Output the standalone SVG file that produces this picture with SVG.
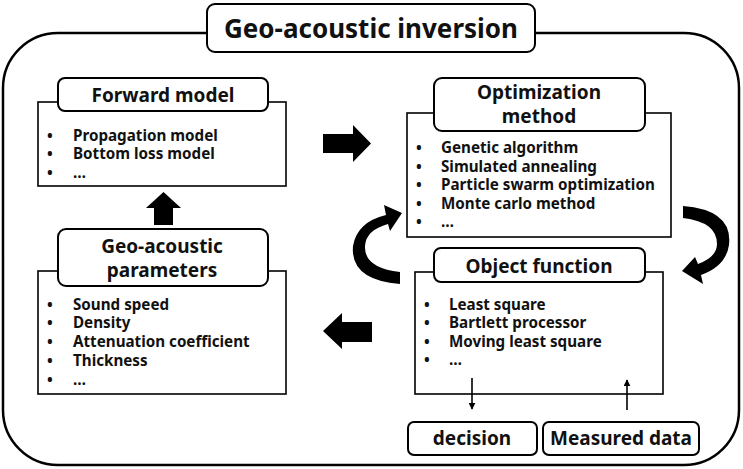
<svg xmlns="http://www.w3.org/2000/svg" width="743" height="469" viewBox="0 0 743 469">
<style>
.bg{fill:#fff}
.outer{fill:none;stroke:#000;stroke-width:2.5}
.body{fill:#fff;stroke:#000;stroke-width:1.6}
.hdr{fill:#fff;stroke:#000;stroke-width:2}
.t{font-family:"Noto Sans","Open Sans",sans-serif;font-weight:bold;fill:#111}
.h{font-size:19px;text-anchor:middle}
.b{font-size:15.2px}
.blk{fill:#000}
.thin{stroke:#000;stroke-width:1.6;fill:none}
</style>
<defs>
<marker id="ah" viewBox="0 0 10 10" refX="9" refY="5" markerWidth="7" markerHeight="7" orient="auto" markerUnits="userSpaceOnUse"><path d="M0,0 L10,5 L0,10 Z" fill="#000"/></marker>
</defs>
<rect class="bg" width="743" height="469"/>
<rect class="outer" x="3" y="33" width="736" height="432" rx="55"/>
<g id="title">
<rect class="hdr" x="207" y="4" width="328" height="48" rx="8"/>
<text class="t" x="371" y="38" font-size="26" text-anchor="middle">Geo-acoustic inversion</text>
</g>
<g id="forward-model">
<rect class="body" x="38" y="102" width="248" height="84"/>
<rect class="hdr" x="58" y="78" width="210" height="33" rx="7"/>
<text class="t h" x="163" y="102">Forward model</text>
<text class="t b" x="47" y="141">•</text><text class="t b" x="73" y="141">Propagation model</text>
<text class="t b" x="47" y="159">•</text><text class="t b" x="73" y="159">Bottom loss model</text>
<text class="t b" x="47" y="178">•</text><text class="t b" x="73" y="178">…</text>
</g>
<g id="optimization-method">
<rect class="body" x="407" y="113" width="264" height="124"/>
<rect class="hdr" x="434" y="78" width="211" height="53" rx="8"/>
<text class="t h" x="539" y="99">Optimization</text>
<text class="t h" x="539" y="123">method</text>
<text class="t b" x="416" y="153">•</text><text class="t b" x="441" y="153">Genetic algorithm</text>
<text class="t b" x="416" y="172">•</text><text class="t b" x="441" y="172">Simulated annealing</text>
<text class="t b" x="416" y="190">•</text><text class="t b" x="441" y="190">Particle swarm optimization</text>
<text class="t b" x="416" y="209">•</text><text class="t b" x="441" y="209">Monte carlo method</text>
<text class="t b" x="416" y="227">•</text><text class="t b" x="441" y="227">…</text>
</g>
<g id="geo-acoustic-parameters">
<rect class="body" x="38" y="271" width="248" height="123"/>
<rect class="hdr" x="58" y="229" width="210" height="57" rx="8"/>
<text class="t h" x="162" y="253">Geo-acoustic</text>
<text class="t h" x="162" y="277">parameters</text>
<text class="t b" x="47" y="310">•</text><text class="t b" x="73" y="310">Sound speed</text>
<text class="t b" x="47" y="328">•</text><text class="t b" x="73" y="328">Density</text>
<text class="t b" x="47" y="347">•</text><text class="t b" x="73" y="347">Attenuation coefficient</text>
<text class="t b" x="47" y="366">•</text><text class="t b" x="73" y="366">Thickness</text>
<text class="t b" x="47" y="385">•</text><text class="t b" x="73" y="385">…</text>
</g>
<g id="object-function">
<rect class="body" x="415" y="272" width="248" height="122"/>
<rect class="hdr" x="434" y="248" width="211" height="34" rx="7"/>
<text class="t h" x="539" y="273">Object function</text>
<text class="t b" x="424" y="310">•</text><text class="t b" x="449" y="310">Least square</text>
<text class="t b" x="424" y="328">•</text><text class="t b" x="449" y="328">Bartlett processor</text>
<text class="t b" x="424" y="347">•</text><text class="t b" x="449" y="347">Moving least square</text>
<text class="t b" x="424" y="365">•</text><text class="t b" x="449" y="365">…</text>
</g>
<g id="decision">
<rect class="hdr" x="408" y="422" width="129" height="33" rx="6"/>
<text class="t h" x="472" y="445" font-size="17">decision</text>
</g>
<g id="measured-data">
<rect class="hdr" x="543" y="422" width="156" height="33" rx="6"/>
<text class="t h" x="621" y="445" font-size="17">Measured data</text>
</g>
<g id="connectors">
<path class="blk" d="M323,134 L353,134 L353,125 L371,143.5 L353,162 L353,153 L323,153 Z"/>
<path class="blk" d="M154,225 L154,208 L146,208 L163.5,192 L181,208 L173,208 L173,225 Z"/>
<path class="blk" d="M372,322 L342,322 L342,313 L323,331 L342,349 L342,342 L372,342 Z"/>
<path class="blk" d="M400,284 Q350,280 353,246 Q357,222 386,215 L384,205 L402,213 L390,231 L388,224 Q366,230 365,246 Q364,268 400,272 Z"/>
<path class="blk" d="M683,206 Q733,210 729,245 Q726,266 701,275 L703,284 L682,271 L695,257 L698,264 Q717,257 717,244 Q717,222 683,218 Z"/>
<line class="thin" x1="472" y1="378" x2="472" y2="409" marker-end="url(#ah)"/>
<line class="thin" x1="627" y1="410" x2="627" y2="380" marker-end="url(#ah)"/>
</g>
</svg>
